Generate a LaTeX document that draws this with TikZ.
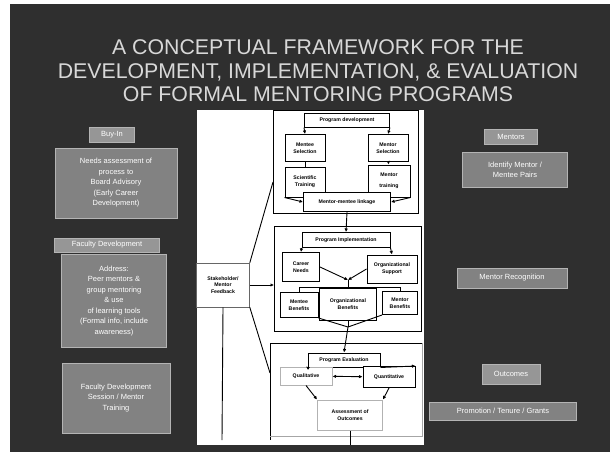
\documentclass[tikz,border=0pt]{standalone}
\usepackage{fontspec}
\setmainfont{Liberation Sans}
\usetikzlibrary{arrows.meta}

\definecolor{slidebg}{HTML}{2F2F2F}
\definecolor{boxfill}{HTML}{828282}
\definecolor{tagfill}{HTML}{969696}
\definecolor{boxedge}{HTML}{B4B4B4}
\definecolor{titlegray}{HTML}{D8D8D8}

\begin{document}
\begin{tikzpicture}[x=1pt,y=-1pt,
  slidebox/.style={draw=boxedge, line width=0.8pt, fill=boxfill, text=white,
    font=\fontsize{7.5}{10.5}\selectfont, align=center, inner sep=1pt},
  tagbox/.style={slidebox, fill=tagfill},
  flow/.style={draw=black, line width=1pt, fill=white,
    font=\fontsize{5.2}{6.7}\selectfont\bfseries, align=center, inner sep=1pt},
  softflow/.style={flow, draw=black!30},
  link/.style={draw=black, line width=0.9pt},
  arr/.style={link, -{Latex[length=3.5pt,width=3.5pt]}},
  darr/.style={link, {Latex[length=3.5pt,width=3.5pt]}-{Latex[length=3.5pt,width=3.5pt]}}]

\useasboundingbox (0,0) rectangle (612,455);
% slide background
\fill[white] (0,0) rectangle (612,455);
\fill[slidebg] (10,4) rectangle (610,452);

% title
\node[text=titlegray, font=\fontsize{21.3}{23.5}\selectfont, align=center] (title) at (318,71)
  {A CONCEPTUAL FRAMEWORK FOR THE\\DEVELOPMENT, IMPLEMENTATION, \& EVALUATION\\OF FORMAL MENTORING PROGRAMS};

% left column
\node[tagbox, minimum width=45pt, minimum height=15pt] (buyintag) at (112,135) {Buy-In};
\node[slidebox, minimum width=122pt, minimum height=70pt] (buyin) at (116,183)
  {Needs assessment of\\process to\\Board Advisory\\(Early Career\\Development)};
\node[tagbox, minimum width=105pt, minimum height=14pt] (factag) at (107,245) {Faculty Development};
\node[slidebox, minimum width=105pt, minimum height=93pt] (facdev) at (114,301)
  {Address:\\Peer mentors \&\\group mentoring\\\& use\\of learning tools\\(Formal info, include\\awareness)};
\node[slidebox, minimum width=108pt, minimum height=70pt] (session) at (116,398)
  {Faculty Development\\Session / Mentor\\Training};

% right column
\node[tagbox, minimum width=53pt, minimum height=15pt] (mentortag) at (511,137) {Mentors};
\node[slidebox, minimum width=105pt, minimum height=35pt] (pairs) at (515,170)
  {Identify Mentor /\\Mentee Pairs};
\node[slidebox, minimum width=110pt, minimum height=20pt] (recog) at (512,278) {Mentor Recognition};
\node[tagbox, minimum width=58pt, minimum height=20pt] (outtag) at (511,374) {Outcomes};
\node[slidebox, minimum width=147pt, minimum height=18pt] (results) at (503,411)
  {Promotion / Tenure / Grants};

% central flow chart panel
\fill[white] (197,110) rectangle (424,445);

% panel frames
\draw[link] (273,110) rectangle (418,213);
\draw[link] (274,226) rectangle (421,331);
\draw[link] (270,343) -- (422,343);
\draw[link] (270,343) -- (270,440);
\draw[line width=0.7pt, black!35] (422,343) -- (422,436) -- (270,436);

% feedback box and its branches
\node[flow, line width=0.6pt, draw=black!60, minimum width=53pt, minimum height=44pt] (fb) at (223,285)
  {Stakeholder/\\Mentor\\Feedback};
\coordinate (fbtop) at (273,182);
\coordinate (fbmid) at (274,285);
\coordinate (fbbend) at (270,373);
\coordinate (fbfoot) at (222,440);
\draw[link] (fb.north east) -- (fbtop);
\draw[arr] (fb.east) -- (fbmid);
\draw[link] (fb.south east) -- (fbbend);
\draw[link] (fb.south) -- (fbfoot);

% program development
\node[flow, minimum width=85pt, minimum height=14pt] (dev) at (347,120) {Program development};
\node[flow, minimum width=40pt, minimum height=27pt] (menteesel) at (305,148) {Mentee\\Selection};
\node[flow, minimum width=40pt, minimum height=27pt] (mentorsel) at (388,148) {Mentor\\Selection};
\node[flow, minimum width=40pt, minimum height=30pt] (menteetr) at (305,182) {Scientific\\Training};
\node[flow, minimum width=42pt, minimum height=32pt] (mentortr) at (389,181) {Mentor\\[4pt]training};
\node[flow, minimum width=87pt, minimum height=19pt] (linkage) at (347,202) {Mentor-mentee linkage};
\draw[arr] (dev.south west) -- (menteesel.north);
\draw[arr] (dev.south east) -- (mentorsel.north);
\draw[link] (menteesel) -- (menteetr);
\draw[arr] (mentorsel) -- (mentortr);
\draw[arr] (menteetr.south west) -- (linkage.west);
\draw[arr] (mentortr.south east) -- (linkage.east);

% program implementation
\node[flow, minimum width=88pt, minimum height=15pt] (impl) at (346,240) {Program Implementation};
\node[flow, minimum width=37pt, minimum height=29pt] (needs) at (301,267) {Career\\Needs};
\node[flow, minimum width=50pt, minimum height=28pt] (support) at (392,269) {Organizational\\Support};
\coordinate (meet) at (348,280);
\coordinate (bar) at (348,287);
\coordinate (barl) at (299,287);
\coordinate (barr) at (400,287);
\node[flow, minimum width=38pt, minimum height=25pt] (menteeben) at (299,305) {Mentee\\Benefits};
\node[flow, minimum width=57pt, minimum height=32pt] (orgben) at (348,304) {Organizational\\Benefits};
\node[flow, minimum width=35pt, minimum height=23pt] (mentorben) at (400,303) {Mentor\\Benefits};
\coordinate (join) at (348,327);
\draw[arr] (linkage.south) -- (impl.north);
\draw[arr] (impl.south west) -- (needs.north);
\draw[arr] (impl.south east) -- (support.north);
\draw[arr] (needs.east) -- (meet);
\draw[arr] (support.west) -- (meet);
\draw[link] (meet) -- (bar);
\draw[link] (barl) -- (barr);
\draw[link] (barl) -- (menteeben.north);
\draw[link] (bar) -- (orgben.north);
\draw[link] (barr) -- (mentorben.north);
\draw[link] (menteeben.south east) -- (join);
\draw[link] (mentorben.south west) -- (join);
\draw[link] (orgben.south) -- (join);

% program evaluation
\node[flow, minimum width=72pt, minimum height=14pt] (eval) at (344,360) {Program Evaluation};
\node[softflow, minimum width=52pt, minimum height=18pt] (qual) at (306,376) {Qualitative};
\node[flow, minimum width=52pt, minimum height=21pt] (quant) at (389,377) {Quantitative};
\node[softflow, minimum width=65pt, minimum height=30pt] (assess) at (350,415) {Assessment of\\Outcomes};
\coordinate (evalfoot) at (350,445);
\draw[arr] (join) -- (eval.north);
\draw[arr] (eval.south west) -- (qual.north);
\draw[arr] (eval.south east) -- (quant.north east);
\draw[darr] (qual) -- (quant);
\draw[arr] (qual.south) -- (assess.north west);
\draw[arr] (quant.south) -- (assess.north east);
\draw[link] (assess.south) -- (evalfoot);
\end{tikzpicture}
\end{document}
